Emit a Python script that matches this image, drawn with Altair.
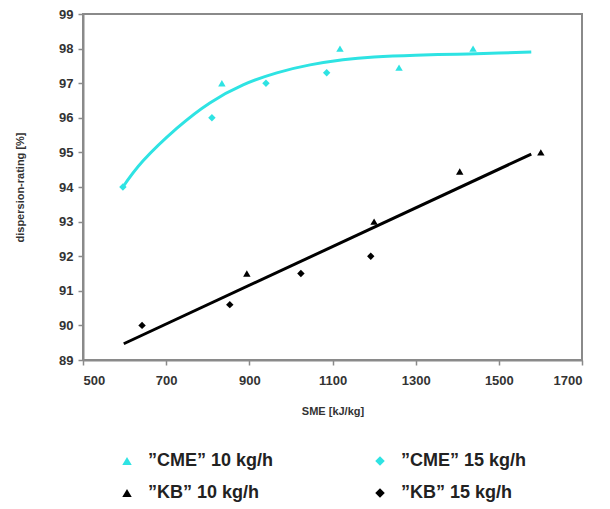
import altair as alt
import pandas as pd

# Measured points
cme10_x = [834, 1118, 1260, 1438]
cme10_y = [97.0, 98.0, 97.45, 98.0]
cme15_x = [596, 810, 940, 1086]
cme15_y = [94.0, 96.0, 97.0, 97.3]
kb10_x = [894, 1200, 1406, 1601]
kb10_y = [91.5, 93.0, 94.45, 95.0]
kb15_x = [642, 853, 1024, 1192]
kb15_y = [90.0, 90.6, 91.5, 92.0]

series_names = ["\u201dCME\u201d 10 kg/h", "\u201dCME\u201d 15 kg/h",
                "\u201dKB\u201d 10 kg/h", "\u201dKB\u201d 15 kg/h"]

# Trend lines
cme_trend_x = [596, 644, 726, 805, 885, 966, 1046, 1125, 1200, 1300, 1400, 1500, 1578]
cme_trend_y = [94.0, 94.75, 95.7, 96.43, 96.95, 97.3, 97.53, 97.68, 97.76, 97.81, 97.84, 97.87, 97.9]
kb_trend_x = [598, 1578]
kb_trend_y = [89.47, 94.95]

x_ticks = [500, 700, 900, 1100, 1300, 1500, 1700]
y_ticks = [89, 90, 91, 92, 93, 94, 95, 96, 97, 98, 99]

CYAN = "#2ee3e3"
GREY = "#8a8a8a"

rows = []
for name, xs, ys in zip(series_names, [cme10_x, cme15_x, kb10_x, kb15_x],
                        [cme10_y, cme15_y, kb10_y, kb15_y]):
    for a, b in zip(xs, ys):
        rows.append({"sme": a, "rating": b, "series": name})
pts = pd.DataFrame(rows)
cme_line = pd.DataFrame({"sme": cme_trend_x, "rating": cme_trend_y})
kb_line = pd.DataFrame({"sme": kb_trend_x, "rating": kb_trend_y})

xscale = alt.Scale(domain=[500, 1700], nice=False, zero=False)
yscale = alt.Scale(domain=[89, 99], nice=False, zero=False)

xaxis = alt.Axis(values=x_ticks, title="SME [kJ/kg]", grid=False, format="d", labelOverlap=False,
                 labelFont="Liberation Sans", labelFontWeight="bold", labelFontSize=13,
                 labelColor="#333333", titleFont="Liberation Sans", titleFontWeight="bold",
                 titleFontSize=11, titleColor="#333333", domainColor=GREY, domainWidth=2,
                 tickColor=GREY, tickWidth=1.5, tickSize=5, labelPadding=9, titlePadding=18)
yaxis = alt.Axis(values=y_ticks, title="dispersion-rating [%]", grid=False, format="d",
                 labelOverlap=False,
                 labelFont="Liberation Sans", labelFontWeight="bold", labelFontSize=13,
                 labelColor="#333333", titleFont="Liberation Sans", titleFontWeight="bold",
                 titleFontSize=11, titleColor="#333333", domainColor=GREY, domainWidth=2,
                 tickColor=GREY, tickWidth=1.5, tickSize=5, labelPadding=5, titlePadding=33)

X = alt.X("sme:Q", scale=xscale, axis=xaxis)
Y = alt.Y("rating:Q", scale=yscale, axis=yaxis)

line_cme = alt.Chart(cme_line).mark_line(color=CYAN, strokeWidth=3, interpolate="natural").encode(
    x=X, y=Y,
)
line_kb = alt.Chart(kb_line).mark_line(color="black", strokeWidth=3).encode(
    x=X, y=Y,
)

legend = alt.Legend(title=None, orient="none", legendX=35, legendY=438, columns=2,
                    direction="horizontal",
                    labelFont="Liberation Sans", labelFontWeight="bold", labelFontSize=18,
                    labelColor="#222222", symbolSize=90, symbolStrokeWidth=0,
                    columnPadding=97, rowPadding=14, labelOffset=12, labelLimit=300)

points = alt.Chart(pts).mark_point(filled=True, size=55, opacity=1).encode(
    x=X, y=Y,
    color=alt.Color("series:N", scale=alt.Scale(domain=series_names,
                                                range=[CYAN, CYAN, "black", "black"]),
                    legend=legend),
    shape=alt.Shape("series:N", scale=alt.Scale(domain=series_names,
                                                range=["triangle-up", "diamond", "triangle-up", "diamond"]),
                    legend=legend),
)

chart = alt.layer(line_cme, line_kb, points).properties(
    width=499, height=346,
    autosize=alt.AutoSizeParams(type="none"),
    padding={"left": 75, "top": 6, "right": 20, "bottom": 148},
    background="white",
).configure_view(stroke=GREY, strokeWidth=2)

chart.save("out.html", embed_options={"renderer": "svg", "actions": False})
